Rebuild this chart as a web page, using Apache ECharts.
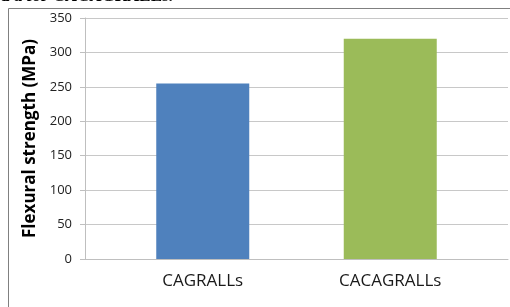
<!DOCTYPE html>
<html>
	<head>
		<meta charset="utf-8">
		<title>Flexural strength</title>
		<script src="https://cdn.jsdelivr.net/npm/echarts@6/dist/echarts.min.js"></script>
		<style>
			html, body { margin: 0; padding: 0; background: #fff; }
			#chart { width: 510px; height: 307px; }
		</style>
	</head>
	<body>
		<div id="chart"></div>
		<script type="text/javascript">
			var categories = ['CAGRALLs', 'CACAGRALLs'];
			var strength = [255, 320];
			var yTicks = [0, 50, 100, 150, 200, 250, 300, 350];
			var yTitle = 'Flexural strength (MPa)';
			var captionTail = 'd a for CACAGRALLs.';

			var barColors = ['#4f81bd', '#9bbb59'];
			var yMin = yTicks[0], yMax = yTicks[yTicks.length - 1], yStep = yTicks[1] - yTicks[0];

			var myChart = echarts.init(document.getElementById('chart'));
			var option = {
				animation: false,
				grid: [
					{ left: 85, right: 2, top: 18, bottom: 48 },
					{ left: 109, right: 26, top: 18, bottom: 48 }
				],
				xAxis: [{
					gridIndex: 0,
					type: 'category',
					data: categories,
					axisLine: { lineStyle: { color: '#bfbfbf', width: 1 } },
					axisTick: { show: false },
					axisLabel: { show: false }
				}, {
					gridIndex: 1,
					type: 'category',
					data: categories,
					axisLine: { show: false },
					axisTick: { show: false },
					axisLabel: {
						color: '#1a1a1a',
						fontFamily: 'Open Sans',
						fontSize: 17,
						margin: 14
					}
				}],
				yAxis: [{
					gridIndex: 0,
					type: 'value',
					min: yMin,
					max: yMax,
					interval: yStep,
					name: yTitle,
					nameLocation: 'middle',
					nameGap: 44,
					nameTextStyle: {
						color: '#000',
						fontFamily: 'Open Sans',
						fontWeight: 'bold',
						fontSize: 17
					},
					axisLine: { show: true, lineStyle: { color: '#bfbfbf' } },
					axisTick: { show: true, length: 5, lineStyle: { color: '#bfbfbf' } },
					axisLabel: {
						color: '#222',
						fontFamily: 'Open Sans',
						fontSize: 13,
						margin: 13
					},
					splitLine: { lineStyle: { color: '#c8c8c8', width: 1 } }
				}, {
					gridIndex: 1,
					type: 'value',
					min: yMin,
					max: yMax,
					interval: yStep,
					show: false
				}],
				series: [{
					type: 'bar',
					xAxisIndex: 1,
					yAxisIndex: 1,
					data: strength,
					barWidth: 93,
					itemStyle: {
						color: function(p) { return barColors[p.dataIndex]; }
					}
				}],
				graphic: [{
					type: 'rect',
					shape: { x: 8.5, y: 8.5, width: 600, height: 400 },
					style: { fill: 'none', stroke: '#808080', lineWidth: 1 }
				}, {
					type: 'text',
					x: 0,
					y: 5.5,
					style: {
						text: captionTail,
						fill: '#000',
						verticalAlign: 'bottom',
						font: 'bold 17px "Liberation Serif"'
					}
				}]
			};
			myChart.setOption(option);
		</script>
	</body>
</html>
